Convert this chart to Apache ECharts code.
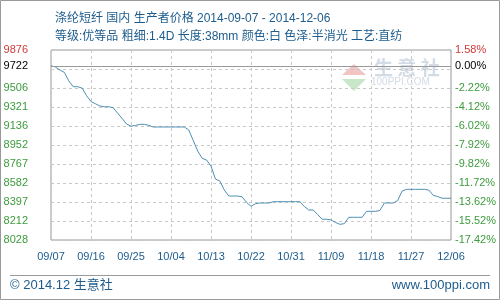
<!DOCTYPE html>
<html>
<head>
<meta charset="utf-8">
<script src="https://cdn.jsdelivr.net/npm/echarts@6/dist/echarts.min.js"></script>
<style>html,body{margin:0;padding:0;background:#fff}#c{width:500px;height:300px}</style>
</head>
<body>
<div id="c"></div>
<script>
// ---- data ----
var startDate = '2014-09-07';
var prices = [
 9722, 9710, 9681, 9658, 9576, 9519, 9519, 9505, 9431, 9374,
 9353, 9331, 9324, 9324, 9314, 9261, 9210, 9156, 9135, 9142,
 9153, 9153, 9143, 9127, 9127, 9127, 9127, 9127, 9127, 9127,
 9127, 9098, 8996, 8894, 8823, 8806, 8748, 8621, 8602, 8514,
 8456, 8456, 8456, 8448, 8394, 8356, 8381, 8388, 8388, 8388,
 8401, 8401, 8401, 8401, 8401, 8401, 8401, 8354, 8320, 8320,
 8276, 8230, 8230, 8224, 8199, 8181, 8187, 8249, 8249, 8249,
 8249, 8307, 8307, 8307, 8315, 8388, 8388, 8388, 8412, 8505,
 8521, 8521, 8521, 8521, 8521, 8514, 8463, 8451, 8434, 8434,
 8434
];
var baseValue = 9722;
var axisMin = 8028.4;
var axisMax = 9875.6;
var leftTicks = ['8028','8212','8397','8582','8767','8952','9136','9321','9506','','9876'];
var rightTicks = ['-17.42%','-15.52%','-13.62%','-11.72%','-9.82%','-7.92%','-6.02%','-4.12%','-2.22%','','1.58%'];
var baseLabelLeft = '9722';
var baseLabelRight = '0.00%';
var title1 = '涤纶短纤 国内 生产者价格 2014-09-07 - 2014-12-06';
var title2 = '等级:优等品 粗细:1.4D 长度:38mm 颜色:白 色泽:半消光 工艺:直纺';
var footerLeft = '© 2014.12 生意社';
var footerRight = 'www.100ppi.com';

// categories
var dates = [];
(function(){
  var d = new Date(startDate + 'T00:00:00Z');
  for (var i = 0; i < prices.length; i++) {
    var m = d.getUTCMonth() + 1, dd = d.getUTCDate();
    dates.push((m < 10 ? '0' : '') + m + '/' + (dd < 10 ? '0' : '') + dd);
    d.setUTCDate(d.getUTCDate() + 1);
  }
})();

var FONT = "'Liberation Sans','Noto Sans CJK SC',sans-serif";
var BLUE = '#1d5c8c';
var GREEN = '#3d9b3d';
var RED = '#cc3a3a';

var chart = echarts.init(document.getElementById('c'), null, {renderer: 'canvas'});
chart.setOption({
  animation: false,
  backgroundColor: '#fff',
  textStyle: {fontFamily: FONT},
  title: [
    {text: title1, left: 50, top: 8, textStyle: {fontSize: 12, fontWeight: 'normal', color: BLUE, fontFamily: FONT}},
    {text: title2, left: 50, top: 26, textStyle: {fontSize: 12, fontWeight: 'normal', color: BLUE, fontFamily: FONT}}
  ],
  grid: {left: 51, top: 50, width: 400, height: 190, show: true, borderColor: '#999', borderWidth: 1, containLabel: false},
  xAxis: {
    type: 'category', data: dates, boundaryGap: false,
    axisLine: {show: false}, axisTick: {show: false},
    axisLabel: {interval: 8, color: BLUE, fontSize: 11, margin: 11, fontFamily: FONT},
    splitLine: {show: true, interval: 8, lineStyle: {color: '#c8c8c8', type: [3, 3]}}
  },
  yAxis: [
    {type: 'value', min: axisMin, max: axisMax, show: false, splitLine: {show: false}},
    {type: 'value', position: 'left', min: 0, max: 10, interval: 1,
      axisLine: {show: false}, axisTick: {show: false},
      axisLabel: {margin: 23, fontSize: 11, fontFamily: FONT,
        formatter: function(v){ return leftTicks[Math.round(v)]; },
        color: function(v){ return Math.round(v) === 10 ? RED : GREEN; }},
      splitLine: {show: true, lineStyle: {color: '#c8c8c8', type: [3, 3]}}
    },
    {type: 'value', position: 'right', min: 0, max: 10, interval: 1,
      axisLine: {show: false}, axisTick: {show: false},
      axisLabel: {margin: 4, fontSize: 11, fontFamily: FONT,
        formatter: function(v){ return rightTicks[Math.round(v)]; },
        color: function(v){ return Math.round(v) === 10 ? RED : GREEN; }},
      splitLine: {show: false}
    }
  ],
  series: [{
    type: 'line', data: prices, yAxisIndex: 0, symbol: 'none',
    lineStyle: {color: '#4f8fb3', width: 1},
    markLine: {
      silent: true, symbol: 'none',
      lineStyle: {color: '#999', width: 1, type: 'solid'},
      data: [
        {yAxis: baseValue, label: {position: 'start', distance: 23, formatter: baseLabelLeft, color: '#000', fontSize: 11, fontFamily: FONT}},
        {yAxis: baseValue, label: {position: 'end', distance: 4, formatter: baseLabelRight, color: '#000', fontSize: 11, fontFamily: FONT}}
      ]
    }
  }],
  graphic: [
    {type: 'rect', shape: {x: 0.5, y: 0.5, width: 499, height: 299}, style: {fill: 'none', stroke: '#999', lineWidth: 1}, silent: true},
    {type: 'polygon', shape: {points: [[354,64],[342,75],[366,75]]}, style: {fill: '#f2c4c4'}, silent: true},
    {type: 'polygon', shape: {points: [[342,79],[366,79],[354,91]]}, style: {fill: '#c8e6c8'}, silent: true},
    {type: 'text', style: {x: 374, y: 68, text: '生 意 社', fill: '#d3dbe6', font: "bold 19px 'Noto Sans CJK SC'", textVerticalAlign: 'middle'}, silent: true},
    {type: 'text', style: {x: 371, y: 82, text: '100PPI.COM', fill: '#d3dbe6', font: "10px 'Liberation Sans'", textVerticalAlign: 'middle'}, silent: true},
    {type: 'line', shape: {x1: 10, y1: 275.5, x2: 490, y2: 275.5}, style: {stroke: '#999', lineWidth: 1}, silent: true},
    {type: 'text', style: {x: 10, y: 285, text: footerLeft, fill: BLUE, font: "13px 'Liberation Sans','Noto Sans CJK SC'", textVerticalAlign: 'middle'}, silent: true},
    {type: 'text', style: {x: 490, y: 285, text: footerRight, fill: BLUE, font: "13px 'Liberation Sans'", textAlign: 'right', textVerticalAlign: 'middle'}, silent: true}
  ]
});
</script>
</body>
</html>
